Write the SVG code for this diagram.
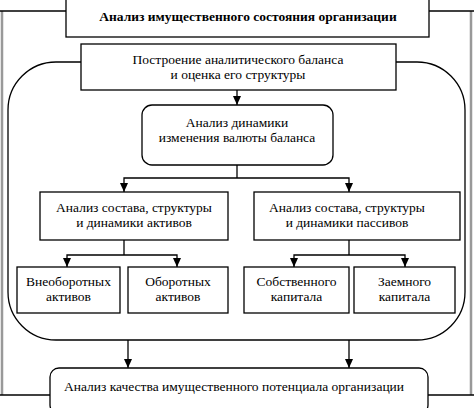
<svg xmlns="http://www.w3.org/2000/svg" width="474" height="408" viewBox="0 0 474 408">
<defs>
<marker id="ah" markerWidth="9" markerHeight="8" refX="9" refY="4" orient="auto-start-reverse" markerUnits="userSpaceOnUse" viewBox="0 0 9 8">
<path d="M0,0 L9,4 L0,8 Z" fill="#000"/>
</marker>
<style>
.b{fill:#fff;stroke:#000;stroke-width:1.3}
.l{fill:none;stroke:#000;stroke-width:1.3}
.t{font-family:"Liberation Serif","Times New Roman",serif;font-size:13.5px;fill:#000;text-anchor:middle}
.tb{font-weight:bold}
</style>
</defs>
<rect x="0" y="0" width="474" height="408" fill="#fff"/>
<g id="frame">
<line x1="2" y1="11" x2="2" y2="395" stroke="#999" stroke-width="2.5"/>
<line x1="471" y1="11" x2="471" y2="395" stroke="#999" stroke-width="2.5"/>
<line x1="0" y1="11" x2="474" y2="11" stroke="#000" stroke-width="1.3"/>
<line x1="0" y1="395" x2="474" y2="395" stroke="#000" stroke-width="1.3"/>
</g>
<g id="container">
<rect x="8" y="62" width="457" height="278" rx="48" ry="48" class="l"/>
</g>
<g id="connectors">
<line x1="237" y1="90" x2="237" y2="105" class="l" marker-end="url(#ah)"/>
<polyline points="237,165 237,178" class="l"/>
<polyline points="124,192 124,178 349,178 349,192" class="l" marker-start="url(#ah)" marker-end="url(#ah)"/>
<polyline points="124,240 124,255" class="l"/>
<polyline points="67,267 67,255 177,255 177,267" class="l" marker-start="url(#ah)" marker-end="url(#ah)"/>
<polyline points="349,240 349,255" class="l"/>
<polyline points="294,267 294,255 405,255 405,267" class="l" marker-start="url(#ah)" marker-end="url(#ah)"/>
<line x1="128" y1="340" x2="128" y2="368" class="l" marker-end="url(#ah)"/>
<line x1="349" y1="340" x2="349" y2="368" class="l" marker-end="url(#ah)"/>
</g>
<g id="title">
<rect x="66" y="-2" width="363" height="39" class="b"/>
<text x="248" y="21" class="t tb">Анализ имущественного состояния организации</text>
</g>
<g id="build">
<rect x="81" y="44" width="315" height="46" class="b"/>
<text x="238" y="64" class="t">Построение аналитического баланса</text>
<text x="238" y="79" class="t">и оценка его структуры</text>
</g>
<g id="dynamics">
<rect x="142" y="105" width="191" height="60" rx="10" ry="10" class="b"/>
<text x="237" y="127" class="t">Анализ динамики</text>
<text x="237" y="142" class="t">изменения валюты баланса</text>
</g>
<g id="assets">
<rect x="40" y="192" width="188" height="48" class="b"/>
<text x="134" y="212" class="t">Анализ состава, структуры</text>
<text x="134" y="227" class="t">и динамики активов</text>
</g>
<g id="liabilities">
<rect x="254" y="192" width="206" height="48" class="b"/>
<text x="347" y="212" class="t">Анализ состава, структуры</text>
<text x="347" y="227" class="t">и динамики пассивов</text>
</g>
<g id="noncurrent">
<rect x="17" y="267" width="103" height="46" class="b"/>
<text x="68.5" y="286" class="t">Внеоборотных</text>
<text x="68.5" y="301" class="t">активов</text>
</g>
<g id="current">
<rect x="128" y="267" width="100" height="46" class="b"/>
<text x="178" y="286" class="t">Оборотных</text>
<text x="178" y="301" class="t">активов</text>
</g>
<g id="equity">
<rect x="244" y="267" width="105" height="46" class="b"/>
<text x="296.5" y="286" class="t">Собственного</text>
<text x="296.5" y="301" class="t">капитала</text>
</g>
<g id="debt">
<rect x="354" y="267" width="101" height="46" class="b"/>
<text x="404.5" y="286" class="t">Заемного</text>
<text x="404.5" y="301" class="t">капитала</text>
</g>
<g id="quality">
<rect x="50" y="368" width="378" height="46" rx="9" ry="9" class="b"/>
<text x="234" y="391" class="t">Анализ качества имущественного потенциала организации</text>
</g>
</svg>
